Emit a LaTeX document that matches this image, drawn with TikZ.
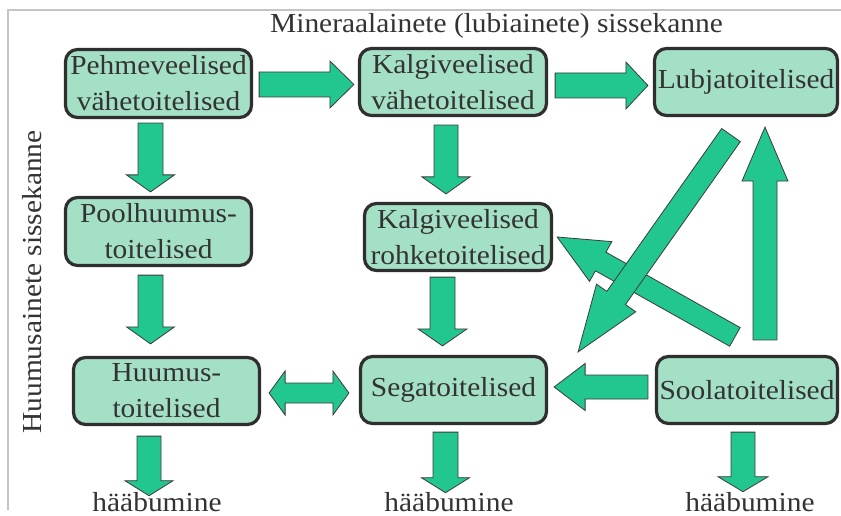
\documentclass[tikz,border=0pt]{standalone}
\usepackage{fontspec}
\setmainfont{Liberation Serif}[FakeStretch=1.07]
\usetikzlibrary{calc}

\definecolor{boxfill}{HTML}{A4E0C6}
\definecolor{boxline}{HTML}{2F2F2F}
\definecolor{arrowfill}{HTML}{22C68F}
\definecolor{arrowline}{HTML}{3C3C3C}
\definecolor{txt}{HTML}{333333}
\definecolor{framegray}{HTML}{C4C4C4}

\tikzset{
  stage/.style={draw=boxline, line width=3.2pt, fill=boxfill, rounded corners=12pt,
    text=txt, align=center, inner sep=0pt,
    font=\fontsize{27.5}{36}\selectfont},
  flow/.style={fill=arrowfill, draw=arrowline, line width=0.8pt, line join=miter},
  heading/.style={text=txt, inner sep=0pt, font=\fontsize{27.5}{33}\selectfont},
  framing/.style={draw=framegray, line width=1.6pt},
}

% block arrow: start, tip, shaft half width, head half width, head length
\newcommand{\blockarrow}[5]{%
  \coordinate (ba-h) at ($(#2)!#5!(#1)$);
  \draw[flow] ($(#1)!#3!90:(#2)$) -- ($(ba-h)!#3!-90:(#1)$) -- ($(ba-h)!#4!-90:(#1)$)
    -- (#2) -- ($(ba-h)!#4!90:(#1)$) -- ($(ba-h)!#3!90:(#1)$) -- ($(#1)!#3!-90:(#2)$) -- cycle;
}
% double-headed block arrow: tip, tip, shaft half width, head half width, head length
\newcommand{\twowayarrow}[5]{%
  \coordinate (ta-a) at ($(#1)!#5!(#2)$);
  \coordinate (ta-b) at ($(#2)!#5!(#1)$);
  \draw[flow] (#1) -- ($(ta-a)!#4!90:(#2)$) -- ($(ta-a)!#3!90:(#2)$)
    -- ($(ta-b)!#3!-90:(#1)$) -- ($(ta-b)!#4!-90:(#1)$) -- (#2)
    -- ($(ta-b)!#4!90:(#1)$) -- ($(ta-b)!#3!90:(#1)$)
    -- ($(ta-a)!#3!-90:(#2)$) -- ($(ta-a)!#4!-90:(#2)$) -- cycle;
}

\begin{document}
\begin{tikzpicture}[x=1pt, y=-1pt]
\useasboundingbox (0,0) rectangle (841,516);
\fill[white] (0,0) rectangle (841,516);

% frame along the top and left
\draw[framing] (841,10) -- (8,10) -- (8,510);

% axis captions
\node[heading, anchor=base] (mineral) at (496.5,33) {Mineraalainete (lubiainete) sissekanne};
\node[heading, anchor=base, rotate=90] (humus) at (41,282) {Huumusainete sissekanne};

% stages
\node[stage, minimum width=186pt, minimum height=68pt] (pehme)  at (158.5,83.5) {Pehmeveelised\\vähetoitelised};
\node[stage, minimum width=187pt, minimum height=67pt] (kalgiv) at (453,82)     {Kalgiveelised\\vähetoitelised};
\node[stage, minimum width=183pt, minimum height=67pt] (lubja)  at (746,82)     {Lubjatoitelised};
\node[stage, minimum width=186pt, minimum height=68pt] (pool)   at (158.5,231.5){Poolhuumus-\\toitelised};
\node[stage, minimum width=187pt, minimum height=67pt] (kalgir) at (458,237)    {Kalgiveelised\\rohketoitelised};
\node[stage, minimum width=186pt, minimum height=67pt] (huumus) at (166.5,391)  {Huumus-\\toitelised};
\node[stage, minimum width=186pt, minimum height=67pt] (sega)   at (453.5,390)  {Segatoitelised};
\node[stage, minimum width=181pt, minimum height=67pt] (soola)  at (747,390)    {Soolatoitelised};

% endpoints
\node[heading, anchor=base] (end1) at (157,511) {hääbumine};
\node[heading, anchor=base] (end2) at (449,511) {hääbumine};
\node[heading, anchor=base] (end3) at (750,511) {hääbumine};

% arrow end points
\coordinate (p1a) at ($(pehme.east)+(6,1)$);
\coordinate (p1b) at ($(kalgiv.west)+(-4,2.5)$);
\coordinate (p2a) at ($(kalgiv.east)+(7,3.5)$);
\coordinate (p2b) at ($(lubja.west)+(-5,3.5)$);
\coordinate (p3a) at ($(pehme.south)+(-8,4)$);
\coordinate (p3b) at ($(pool.north)+(-8,-4)$);
\coordinate (p4a) at ($(kalgiv.south)+(-7,8)$);
\coordinate (p4b) at ($(kalgir.north)+(-12,-8)$);
\coordinate (p5a) at ($(pool.south)+(-8,8)$);
\coordinate (p5b) at ($(huumus.north)+(-16,-12)$);
\coordinate (p6a) at ($(kalgir.south)+(-15.5,5)$);
\coordinate (p6b) at ($(sega.north)+(-11,-9)$);
\coordinate (p7a) at ($(huumus.east)+(8,2)$);
\coordinate (p7b) at ($(sega.west)+(-10,3)$);
\coordinate (p8a) at ($(soola.west)+(-7,-3)$);
\coordinate (p8b) at ($(sega.east)+(6,-3)$);
\coordinate (p9a) at ($(soola.north)+(18,-15)$);
\coordinate (p9b) at ($(lubja.south)+(19,10)$);
\coordinate (p10a) at ($(lubja.south)+(-15,18)$);
\coordinate (p10b) at ($(sega.north east)+(30,-3)$);
\coordinate (p11a) at ($(soola.north west)+(80,-18)$);
\coordinate (p11b) at ($(kalgir.east)+(4,0)$);
\coordinate (p12a) at ($(huumus.south)+(-17.5,10)$);
\coordinate (p12b) at ($(end1.north)+(-8,4)$);
\coordinate (p13a) at ($(sega.south)+(-8,7)$);
\coordinate (p13b) at ($(end2.north)+(-3.5,1)$);
\coordinate (p14a) at ($(soola.south)+(-4,7)$);
\coordinate (p14b) at ($(end3.north)+(-7,0)$);

% connectors
\blockarrow{p1a}{p1b}{12.5pt}{23.5pt}{24pt}
\blockarrow{p2a}{p2b}{12.5pt}{23.5pt}{22pt}
\blockarrow{p3a}{p3b}{12.5pt}{24pt}{17pt}
\blockarrow{p4a}{p4b}{12pt}{24pt}{17pt}
\blockarrow{p5a}{p5b}{12.5pt}{24pt}{17pt}
\blockarrow{p6a}{p6b}{12.5pt}{24.5pt}{17pt}
\twowayarrow{p7a}{p7b}{10pt}{22pt}{16pt}
\blockarrow{p8a}{p8b}{12pt}{23.5pt}{31pt}
\blockarrow{p9a}{p9b}{12pt}{23pt}{54pt}
\blockarrow{p11a}{p11b}{10.7pt}{22.8pt}{50pt}
\blockarrow{p10a}{p10b}{11.4pt}{24pt}{66pt}
\blockarrow{p12a}{p12b}{12pt}{24pt}{15pt}
\blockarrow{p13a}{p13b}{12.5pt}{24pt}{15pt}
\blockarrow{p14a}{p14b}{12pt}{25pt}{15pt}
\end{tikzpicture}
\end{document}
